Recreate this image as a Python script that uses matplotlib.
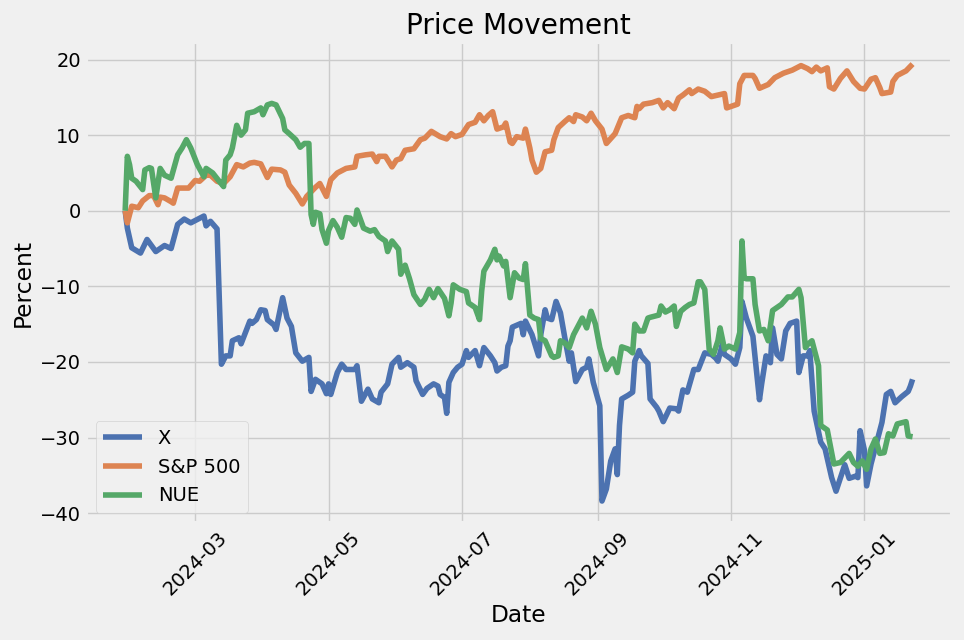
import pandas as pd
import matplotlib
matplotlib.use('Agg')
import matplotlib.pyplot as plt
import matplotlib.dates as mdates

# ------------------------------------------------------------------
# Cumulative % change
# ------------------------------------------------------------------
x_dates = ['2024-01-29', '2024-01-30', '2024-02-01', '2024-02-05', '2024-02-08', '2024-02-12',
           '2024-02-16', '2024-02-19', '2024-02-22', '2024-02-25', '2024-02-28', '2024-03-05',
           '2024-03-06', '2024-03-08', '2024-03-11', '2024-03-13', '2024-03-15', '2024-03-17',
           '2024-03-18', '2024-03-21', '2024-03-22', '2024-03-26', '2024-03-27', '2024-03-29',
           '2024-03-31', '2024-04-02', '2024-04-03', '2024-04-06', '2024-04-07', '2024-04-10',
           '2024-04-12', '2024-04-14', '2024-04-16', '2024-04-19', '2024-04-22', '2024-04-23',
           '2024-04-25', '2024-04-28', '2024-04-30', '2024-05-01', '2024-05-02', '2024-05-05',
           '2024-05-07', '2024-05-09', '2024-05-13', '2024-05-14', '2024-05-16', '2024-05-19',
           '2024-05-21', '2024-05-24', '2024-05-25', '2024-05-28', '2024-05-30', '2024-06-02',
           '2024-06-03', '2024-06-06', '2024-06-09', '2024-06-10', '2024-06-13', '2024-06-15',
           '2024-06-18', '2024-06-20', '2024-06-21', '2024-06-23', '2024-06-24', '2024-06-25',
           '2024-06-27', '2024-06-29', '2024-07-01', '2024-07-03', '2024-07-04', '2024-07-07',
           '2024-07-09', '2024-07-11', '2024-07-14', '2024-07-16', '2024-07-17', '2024-07-19',
           '2024-07-21', '2024-07-22', '2024-07-23', '2024-07-24', '2024-07-28', '2024-07-29',
           '2024-07-30', '2024-08-02', '2024-08-05', '2024-08-06', '2024-08-08', '2024-08-09',
           '2024-08-11', '2024-08-13', '2024-08-15', '2024-08-17', '2024-08-19', '2024-08-20',
           '2024-08-22', '2024-08-25', '2024-08-27', '2024-08-28', '2024-08-30', '2024-09-02',
           '2024-09-03', '2024-09-05', '2024-09-07', '2024-09-09', '2024-09-10', '2024-09-11',
           '2024-09-12', '2024-09-15', '2024-09-17', '2024-09-18', '2024-09-20', '2024-09-21',
           '2024-09-24', '2024-09-25', '2024-09-28', '2024-09-29', '2024-10-01', '2024-10-04',
           '2024-10-07', '2024-10-08', '2024-10-10', '2024-10-12', '2024-10-15', '2024-10-17',
           '2024-10-20', '2024-10-23', '2024-10-25', '2024-10-26', '2024-10-28', '2024-10-29',
           '2024-11-01', '2024-11-03', '2024-11-05', '2024-11-06', '2024-11-08', '2024-11-11',
           '2024-11-14', '2024-11-15', '2024-11-17', '2024-11-19', '2024-11-20', '2024-11-22',
           '2024-11-24', '2024-11-26', '2024-11-28', '2024-12-01', '2024-12-02', '2024-12-04',
           '2024-12-06', '2024-12-07', '2024-12-09', '2024-12-12', '2024-12-14', '2024-12-17',
           '2024-12-19', '2024-12-23', '2024-12-25', '2024-12-28', '2024-12-29', '2024-12-30',
           '2025-01-01', '2025-01-02', '2025-01-04', '2025-01-07', '2025-01-09', '2025-01-11',
           '2025-01-13', '2025-01-15', '2025-01-18', '2025-01-21', '2025-01-22', '2025-01-23']
x_pct = [0.0, -2.3, -4.9, -5.6, -3.8, -5.4,
         -4.6, -5.0, -1.8, -1.1, -1.6, -0.7,
         -2.0, -1.4, -2.4, -20.3, -19.2, -19.2,
         -17.2, -16.8, -17.6, -14.6, -14.9, -14.4,
         -13.1, -13.2, -14.4, -15.1, -15.7, -11.5,
         -14.2, -15.3, -18.8, -19.9, -19.4, -23.9,
         -22.3, -22.9, -24.2, -22.9, -24.3, -21.4,
         -20.3, -21.0, -21.0, -20.5, -25.2, -23.6,
         -24.9, -25.4, -24.0, -22.9, -20.3, -19.4,
         -20.7, -20.1, -20.7, -22.5, -24.3, -23.5,
         -22.9, -23.2, -24.3, -24.7, -26.8, -22.7,
         -21.4, -20.7, -20.3, -18.5, -19.4, -18.5,
         -20.5, -18.1, -19.2, -20.1, -21.2, -20.7,
         -20.5, -17.9, -17.2, -15.4, -14.9, -16.4,
         -14.6, -16.4, -19.2, -16.4, -13.1, -14.2,
         -14.4, -12.0, -13.5, -16.8, -19.9, -18.8,
         -22.6, -21.0, -20.7, -19.6, -22.7, -25.8,
         -38.4, -36.8, -33.1, -31.5, -34.9, -28.4,
         -24.9, -24.4, -24.0, -19.9, -18.5, -19.2,
         -20.2, -24.9, -26.0, -26.5, -27.9, -26.1,
         -26.2, -26.5, -23.7, -24.0, -21.0, -21.0,
         -18.8, -19.0, -19.5, -19.9, -17.7, -19.0,
         -19.6, -20.3, -18.1, -12.0, -14.2, -16.6,
         -25.0, -22.9, -19.2, -20.1, -15.5, -19.0,
         -19.6, -15.9, -14.9, -14.6, -21.4, -19.2,
         -19.2, -18.5, -26.5, -30.6, -31.5, -35.3,
         -37.1, -33.6, -35.4, -35.1, -35.3, -29.1,
         -31.7, -36.4, -33.5, -30.2, -28.0, -24.3,
         -23.9, -25.4, -24.6, -23.9, -23.2, -22.3]

spx_dates = ['2024-01-29', '2024-01-30', '2024-02-01', '2024-02-04', '2024-02-06', '2024-02-09',
             '2024-02-11', '2024-02-13', '2024-02-14', '2024-02-16', '2024-02-19', '2024-02-20',
             '2024-02-22', '2024-02-24', '2024-02-27', '2024-03-01', '2024-03-03', '2024-03-06',
             '2024-03-08', '2024-03-11', '2024-03-14', '2024-03-17', '2024-03-20', '2024-03-23',
             '2024-03-26', '2024-03-28', '2024-03-31', '2024-04-03', '2024-04-05', '2024-04-09',
             '2024-04-11', '2024-04-13', '2024-04-16', '2024-04-19', '2024-04-21', '2024-04-25',
             '2024-04-27', '2024-04-30', '2024-05-02', '2024-05-05', '2024-05-09', '2024-05-13',
             '2024-05-14', '2024-05-18', '2024-05-21', '2024-05-23', '2024-05-24', '2024-05-27',
             '2024-05-30', '2024-06-01', '2024-06-03', '2024-06-05', '2024-06-09', '2024-06-12',
             '2024-06-14', '2024-06-17', '2024-06-21', '2024-06-24', '2024-06-26', '2024-06-28',
             '2024-07-01', '2024-07-04', '2024-07-07', '2024-07-09', '2024-07-11', '2024-07-13',
             '2024-07-15', '2024-07-17', '2024-07-20', '2024-07-21', '2024-07-23', '2024-07-24',
             '2024-07-26', '2024-07-29', '2024-07-30', '2024-08-01', '2024-08-02', '2024-08-04',
             '2024-08-06', '2024-08-08', '2024-08-11', '2024-08-12', '2024-08-14', '2024-08-17',
             '2024-08-19', '2024-08-21', '2024-08-22', '2024-08-25', '2024-08-27', '2024-08-29',
             '2024-08-31', '2024-09-03', '2024-09-05', '2024-09-09', '2024-09-12', '2024-09-15',
             '2024-09-18', '2024-09-19', '2024-09-20', '2024-09-22', '2024-09-26', '2024-09-29',
             '2024-10-01', '2024-10-03', '2024-10-06', '2024-10-08', '2024-10-10', '2024-10-13',
             '2024-10-14', '2024-10-17', '2024-10-20', '2024-10-23', '2024-10-26', '2024-10-29',
             '2024-10-30', '2024-11-02', '2024-11-04', '2024-11-05', '2024-11-07', '2024-11-11',
             '2024-11-12', '2024-11-14', '2024-11-18', '2024-11-21', '2024-11-25', '2024-11-29',
             '2024-12-03', '2024-12-06', '2024-12-08', '2024-12-10', '2024-12-12', '2024-12-15',
             '2024-12-16', '2024-12-18', '2024-12-21', '2024-12-24', '2024-12-27', '2024-12-30',
             '2025-01-01', '2025-01-04', '2025-01-06', '2025-01-08', '2025-01-09', '2025-01-13',
             '2025-01-14', '2025-01-16', '2025-01-20', '2025-01-23']
spx_pct = [0.0, -1.6, 0.6, 0.4, 1.3, 2.0,
           2.0, 0.8, 1.8, 1.7, 1.2, 1.0,
           3.0, 3.0, 3.0, 4.0, 3.9, 4.7,
           4.7, 3.9, 3.6, 4.5, 6.1, 5.8,
           6.3, 6.4, 6.2, 4.4, 5.5, 5.4,
           5.1, 3.4, 2.3, 0.9, 1.9, 3.1,
           3.6, 1.9, 4.1, 5.0, 5.6, 5.8,
           7.2, 7.4, 7.5, 6.5, 7.2, 7.2,
           5.8, 6.7, 6.9, 8.0, 8.2, 9.4,
           9.6, 10.5, 9.8, 9.5, 10.2, 9.8,
           10.1, 11.4, 11.7, 12.7, 11.9, 12.6,
           13.1, 10.8, 11.1, 11.6, 9.1, 8.9,
           9.8, 9.6, 10.8, 8.3, 6.7, 5.1,
           5.6, 7.8, 8.0, 9.4, 11.0, 11.8,
           12.3, 11.8, 12.7, 12.4, 11.9, 12.9,
           11.9, 10.8, 8.9, 10.2, 12.3, 12.6,
           12.3, 13.8, 13.5, 14.1, 14.3, 14.6,
           13.6, 14.3, 13.5, 14.9, 15.3, 16.0,
           15.5, 16.1, 15.8, 15.1, 15.3, 15.5,
           13.6, 13.9, 14.1, 16.8, 17.9, 17.9,
           17.5, 16.2, 16.7, 17.6, 18.2, 18.6,
           19.2, 18.8, 18.4, 19.0, 18.5, 18.9,
           16.4, 16.1, 17.5, 18.5, 17.1, 16.2,
           16.1, 17.4, 17.6, 16.3, 15.5, 15.7,
           17.1, 17.9, 18.5, 19.4]

nue_dates = ['2024-01-29', '2024-01-30', '2024-01-31', '2024-02-01', '2024-02-03', '2024-02-06',
             '2024-02-07', '2024-02-09', '2024-02-10', '2024-02-12', '2024-02-14', '2024-02-16',
             '2024-02-19', '2024-02-22', '2024-02-24', '2024-02-26', '2024-02-28', '2024-03-02',
             '2024-03-05', '2024-03-06', '2024-03-09', '2024-03-12', '2024-03-14', '2024-03-15',
             '2024-03-17', '2024-03-18', '2024-03-20', '2024-03-22', '2024-03-24', '2024-03-25',
             '2024-03-28', '2024-03-31', '2024-04-01', '2024-04-03', '2024-04-05', '2024-04-07',
             '2024-04-10', '2024-04-11', '2024-04-13', '2024-04-16', '2024-04-18', '2024-04-20',
             '2024-04-22', '2024-04-23', '2024-04-24', '2024-04-25', '2024-04-27', '2024-04-28',
             '2024-04-30', '2024-05-01', '2024-05-03', '2024-05-05', '2024-05-07', '2024-05-09',
             '2024-05-11', '2024-05-13', '2024-05-14', '2024-05-17', '2024-05-20', '2024-05-22',
             '2024-05-24', '2024-05-27', '2024-05-28', '2024-05-30', '2024-06-02', '2024-06-03',
             '2024-06-05', '2024-06-07', '2024-06-09', '2024-06-12', '2024-06-14', '2024-06-16',
             '2024-06-18', '2024-06-20', '2024-06-23', '2024-06-25', '2024-06-26', '2024-06-27',
             '2024-06-30', '2024-07-03', '2024-07-04', '2024-07-07', '2024-07-09', '2024-07-10',
             '2024-07-11', '2024-07-14', '2024-07-16', '2024-07-17', '2024-07-18', '2024-07-20',
             '2024-07-21', '2024-07-23', '2024-07-25', '2024-07-27', '2024-07-29', '2024-07-30',
             '2024-08-01', '2024-08-03', '2024-08-05', '2024-08-06', '2024-08-08', '2024-08-11',
             '2024-08-12', '2024-08-14', '2024-08-15', '2024-08-17', '2024-08-19', '2024-08-21',
             '2024-08-23', '2024-08-25', '2024-08-27', '2024-08-29', '2024-08-31', '2024-09-02',
             '2024-09-05', '2024-09-08', '2024-09-10', '2024-09-12', '2024-09-15', '2024-09-17',
             '2024-09-18', '2024-09-20', '2024-09-22', '2024-09-24', '2024-09-25', '2024-09-29',
             '2024-09-30', '2024-10-02', '2024-10-04', '2024-10-06', '2024-10-07', '2024-10-09',
             '2024-10-11', '2024-10-13', '2024-10-15', '2024-10-17', '2024-10-18', '2024-10-20',
             '2024-10-22', '2024-10-24', '2024-10-26', '2024-10-27', '2024-10-29', '2024-10-31',
             '2024-11-03', '2024-11-05', '2024-11-06', '2024-11-07', '2024-11-08', '2024-11-11',
             '2024-11-12', '2024-11-14', '2024-11-16', '2024-11-18', '2024-11-20', '2024-11-24',
             '2024-11-27', '2024-11-29', '2024-12-02', '2024-12-03', '2024-12-05', '2024-12-06',
             '2024-12-08', '2024-12-11', '2024-12-12', '2024-12-15', '2024-12-18', '2024-12-21',
             '2024-12-25', '2024-12-27', '2024-12-29', '2024-12-31', '2025-01-02', '2025-01-04',
             '2025-01-06', '2025-01-08', '2025-01-10', '2025-01-12', '2025-01-14', '2025-01-16',
             '2025-01-20', '2025-01-21', '2025-01-23']
nue_pct = [0.0, 7.2, 6.1, 4.3, 3.9, 2.8,
           5.4, 5.7, 5.6, 1.7, 5.6, 4.7,
           4.3, 7.4, 8.3, 9.4, 8.3, 6.1,
           4.5, 5.6, 5.0, 3.9, 3.2, 6.7,
           7.4, 8.3, 11.3, 10.0, 10.7, 12.9,
           13.1, 13.6, 12.7, 14.0, 14.2, 14.0,
           12.2, 10.7, 10.2, 9.4, 8.4, 8.9,
           8.9, -0.5, -1.8, -0.2, -0.4, -2.5,
           -4.3, -2.6, -1.3, -2.2, -3.5, -0.9,
           -1.0, -1.8, 0.1, -2.3, -2.7, -2.5,
           -3.4, -4.0, -5.4, -4.0, -5.1, -8.4,
           -7.2, -9.0, -11.1, -12.4, -11.7, -10.4,
           -11.5, -10.3, -11.6, -13.9, -12.2, -9.8,
           -10.4, -10.7, -12.2, -12.8, -14.4, -10.6,
           -8.0, -6.5, -5.1, -6.5, -6.0, -7.3,
           -6.7, -11.5, -8.2, -8.9, -9.1, -7.0,
           -13.8, -14.2, -14.4, -16.9, -17.2, -19.2,
           -19.4, -19.2, -17.2, -17.5, -18.1, -16.4,
           -15.3, -14.2, -15.5, -13.3, -15.0, -18.1,
           -21.0, -19.6, -21.4, -18.0, -18.3, -18.8,
           -15.0, -15.9, -15.9, -14.2, -14.1, -13.8,
           -12.6, -13.4, -13.1, -12.6, -15.3, -13.3,
           -12.8, -12.4, -12.2, -9.4, -9.4, -10.4,
           -18.3, -19.0, -17.2, -15.5, -18.3, -17.9,
           -18.3, -16.1, -4.0, -8.9, -9.0, -9.0,
           -12.4, -15.9, -15.7, -17.2, -13.2, -12.4,
           -11.4, -11.4, -10.4, -11.5, -18.1, -17.7,
           -17.2, -20.5, -28.4, -29.0, -33.5, -33.3,
           -32.1, -33.3, -33.8, -33.1, -34.2, -31.5,
           -30.2, -32.1, -32.0, -29.5, -29.8, -28.2,
           -27.9, -29.8, -29.9]

series = [('X', x_dates, x_pct, '#4c72b0'),
          ('S&P 500', spx_dates, spx_pct, '#dd8452'),
          ('NUE', nue_dates, nue_pct, '#55a868')]

# ------------------------------------------------------------------
# Plot
# ------------------------------------------------------------------
plt.style.use('fivethirtyeight')
plt.rcParams['font.family'] = ['DejaVu Sans']

fig = plt.figure(figsize=(9.64, 6.4), dpi=100)
ax = fig.add_axes([0.089, 0.183, 0.8985, 0.751])

for name, dates, vals, color in series:
    ax.plot(pd.to_datetime(dates), vals, label=name, color=color, linewidth=4)

ax.xaxis.set_major_locator(mdates.MonthLocator(bymonth=[1, 3, 5, 7, 9, 11]))
ax.xaxis.set_major_formatter(mdates.DateFormatter('%Y-%m'))
plt.setp(ax.get_xticklabels(), rotation=45)

ax.set_yticks([-40, -30, -20, -10, 0, 10, 20])
ax.set_title('Price Movement')
ax.set_xlabel('Date')
ax.set_ylabel('Percent')
ax.legend(loc='lower left')

fig.savefig('out.png', dpi=100)
